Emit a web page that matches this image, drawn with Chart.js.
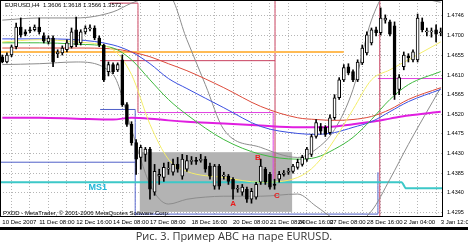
<!DOCTYPE html>
<html>
<head>
<meta charset="utf-8">
<script src="https://cdn.jsdelivr.net/npm/chart.js@4.4.1/dist/chart.umd.min.js"></script>
<style>
  html, body { margin: 0; padding: 0; background: #fff; }
  #wrap { position: relative; width: 468px; height: 242px; overflow: hidden; }
  #chart { position: absolute; left: 0; top: 0; }
  #rule { position: absolute; left: 0; top: 227px; width: 468px; height: 3px; background: #000; }
  #cap { position: absolute; left: 0; top: 230px; width: 468px; text-align: center;
         font: 11px "Open Sans"; line-height: 12px; color: #333; }
  .tag { position: absolute; font: 6px "Liberation Sans"; color: #000; white-space: nowrap; }
</style>
</head>
<body>
<div id="wrap">
  <canvas id="chart" width="468" height="227"></canvas>
  <div class="tag" style="left:5px;top:2px">EURUSD,H4&nbsp; 1.3606 1.3618 1.3566 1.3572</div>
  <div class="tag" style="left:3px;top:210px">PXDD - MetaTrader, © 2001-2006 MetaQuotes Software Corp.</div>
  <div id="rule"></div>
  <div id="cap">Рис. 3. Пример ABC на паре EURUSD.</div>
</div>
<script>
// H4 candles, bar 0 = 10 Dec 2007 00:00
const open  = [1.4652,1.4640,1.4656,1.4675,1.4720,1.4709,1.4714,1.4714,1.4720,1.4700,1.4686,1.4695,1.4659,1.4661,1.4668,1.4675,1.4714,1.4684,1.4709,1.4716,1.4718,1.4695,1.4679,1.4618,1.4634,1.4622,1.4645,1.4542,1.4497,1.4455,1.4421,1.4428,1.4440,1.4341,1.4378,1.4375,1.4394,1.4387,1.4405,1.4378,1.4394,1.4412,1.4414,1.4414,1.4417,1.4401,1.4355,1.4401,1.4378,1.4378,1.4371,1.4348,1.4341,1.4348,1.4325,1.4330,1.4364,1.4394,1.4382,1.4359,1.4371,1.4382,1.4387,1.4389,1.4398,1.4405,1.4417,1.4428,1.4469,1.4492,1.4490,1.4478,1.4512,1.4558,1.4599,1.4629,1.4618,1.4599,1.4638,1.4661,1.4684,1.4714,1.4707,1.4736,1.4732,1.4723,1.4577,1.4629,1.4654,1.4645,1.4645,1.4732,1.4709,1.4709,1.4714,1.4707];
const high  = [1.4656,1.4661,1.4679,1.4729,1.4741,1.4714,1.4720,1.4725,1.4741,1.4707,1.4700,1.4700,1.4668,1.4677,1.4691,1.4718,1.4743,1.4714,1.4723,1.4725,1.4723,1.4700,1.4681,1.4640,1.4638,1.4638,1.4656,1.4547,1.4503,1.4462,1.4449,1.4444,1.4444,1.4405,1.4394,1.4408,1.4410,1.4417,1.4421,1.4428,1.4426,1.4423,1.4421,1.4428,1.4423,1.4408,1.4405,1.4405,1.4387,1.4382,1.4375,1.4357,1.4359,1.4353,1.4350,1.4364,1.4417,1.4398,1.4387,1.4371,1.4389,1.4391,1.4396,1.4405,1.4417,1.4426,1.4444,1.4474,1.4508,1.4499,1.4494,1.4519,1.4565,1.4604,1.4634,1.4636,1.4622,1.4645,1.4679,1.4709,1.4718,1.4720,1.4764,1.4748,1.4736,1.4732,1.4611,1.4663,1.4659,1.4668,1.4750,1.4741,1.4718,1.4718,1.4725,1.4718];
const low   = [1.4638,1.4638,1.4652,1.4670,1.4697,1.4700,1.4707,1.4711,1.4704,1.4684,1.4681,1.4629,1.4650,1.4656,1.4663,1.4672,1.4675,1.4679,1.4704,1.4711,1.4691,1.4675,1.4595,1.4608,1.4613,1.4618,1.4538,1.4492,1.4449,1.4382,1.4394,1.4412,1.4325,1.4334,1.4359,1.4366,1.4382,1.4380,1.4387,1.4371,1.4389,1.4405,1.4405,1.4410,1.4387,1.4371,1.4348,1.4348,1.4371,1.4359,1.4325,1.4341,1.4334,1.4318,1.4316,1.4325,1.4359,1.4359,1.4348,1.4348,1.4364,1.4378,1.4382,1.4385,1.4394,1.4401,1.4412,1.4423,1.4465,1.4474,1.4469,1.4474,1.4508,1.4554,1.4595,1.4611,1.4595,1.4595,1.4634,1.4656,1.4679,1.4700,1.4702,1.4729,1.4700,1.4554,1.4565,1.4622,1.4640,1.4640,1.4640,1.4709,1.4700,1.4697,1.4686,1.4700];
const close = [1.4640,1.4656,1.4675,1.4720,1.4702,1.4704,1.4711,1.4720,1.4709,1.4688,1.4695,1.4640,1.4663,1.4672,1.4684,1.4709,1.4679,1.4709,1.4718,1.4718,1.4695,1.4679,1.4599,1.4634,1.4618,1.4634,1.4542,1.4497,1.4455,1.4417,1.4444,1.4440,1.4348,1.4389,1.4382,1.4398,1.4396,1.4405,1.4394,1.4417,1.4414,1.4414,1.4412,1.4417,1.4394,1.4378,1.4401,1.4355,1.4380,1.4366,1.4348,1.4350,1.4353,1.4325,1.4343,1.4359,1.4401,1.4364,1.4353,1.4357,1.4382,1.4385,1.4389,1.4401,1.4410,1.4421,1.4440,1.4469,1.4501,1.4481,1.4474,1.4512,1.4558,1.4599,1.4627,1.4615,1.4599,1.4640,1.4672,1.4702,1.4714,1.4707,1.4741,1.4741,1.4704,1.4565,1.4604,1.4656,1.4650,1.4663,1.4741,1.4714,1.4711,1.4711,1.4704,1.4707];

const timeLabels = ['10 Dec 2007','11 Dec 08:00','12 Dec 16:00','14 Dec 08:00','17 Dec 08:00','18 Dec 16:00',
                    '20 Dec 08:00','21 Dec 08:00','24 Dec 16:00','27 Dec 08:00','28 Dec 16:00','2 Jan 04:00','3 Jan 12:00'];
const timeBars = [0, 8, 16, 24, 32, 41, 50, 58, 64, 71, 79, 87, 95];
const priceTicks = [1.4295, 1.4340, 1.4385, 1.4430, 1.4475, 1.4520, 1.4565, 1.4610, 1.4655, 1.4700, 1.4746];

// moving averages, read every few bars
const maBars   = [0, 8, 16, 24, 28, 32, 36, 40, 48, 56, 64, 68, 72, 76, 80, 84, 88, 95];
const maBlue   = [1.4693,1.4693,1.4691,1.4679,1.4663,1.4636,1.4602,1.4579,1.4535,1.4492,1.4476,1.4474,1.4478,1.4490,1.4503,1.4526,1.4549,1.4577];
const maRed    = [1.4672,1.4672,1.4672,1.4670,1.4663,1.4652,1.4636,1.4620,1.4581,1.4538,1.4512,1.4508,1.4506,1.4508,1.4515,1.4531,1.4554,1.4581];
const maGreen  = [1.4684,1.4684,1.4681,1.4672,1.4645,1.4599,1.4554,1.4519,1.4462,1.4428,1.4417,1.4421,1.4440,1.4467,1.4508,1.4554,1.4588,1.4618];
const maYellow = [1.4686,1.4691,1.4686,1.4668,1.4611,1.4497,1.4417,1.4389,1.4375,1.4364,1.4375,1.4405,1.4462,1.4531,1.4599,1.4622,1.4645,1.4686];
const maPink   = [1.4512,1.4512,1.4510,1.4508,1.4512,1.4510,1.4506,1.4503,1.4499,1.4494,1.4490,1.4490,1.4492,1.4497,1.4503,1.4510,1.4517,1.4526];

// bollinger bands
const bandBars  = [0, 8, 16, 24, 28, 32, 36, 40, 44, 48, 56, 64, 68, 72, 76, 80, 84, 88, 95];
const bandUpper = [1.4736,1.4741,1.4741,1.4755,1.4775,1.4789,1.4793,1.4691,1.4588,1.4485,1.4444,1.4421,1.4440,1.4485,1.4577,1.4736,1.4805,1.4793,1.4777];
const bandLower = [1.4634,1.4636,1.4640,1.4611,1.4485,1.4359,1.4314,1.4325,1.4330,1.4332,1.4332,1.4337,1.4309,1.4280,1.4268,1.4298,1.4371,1.4451,1.4581];

// drawn levels: [bar, price] points
const orangeLevel = [[-0.5, 1.4663], [74, 1.4663]];
const cyanLevel   = [[-0.5, 1.4364], [86.5, 1.4364], [87.5, 1.4350], [95.5, 1.4350]];
const redLines    = [[[23.3, 1.4775], [29.4, 1.4775], [29.4, 1.4524]],
                     [[21.2, 1.4643], [59.1, 1.4643]],
                     [[59.1, 1.4790], [59.1, 1.4371]],
                     [[81.8, 1.4790], [81.8, 1.4280]]];
const pinkLines   = [[[29.4, 1.4524], [58.7, 1.4524], [58.7, 1.4371]],
                     [[81.4, 1.4602], [95.5, 1.4602]]];
const blueLines   = [[[-0.5, 1.4410], [28.8, 1.4410]],
                     [[21.2, 1.4531], [28.8, 1.4531], [28.8, 1.4288]],
                     [[28.8, 1.4291], [81.4, 1.4291], [81.4, 1.4387]]];

const boxBars = [29.8, 62.8];
const boxPrices = [1.4296, 1.4433];
const marks = [['A', 50, 1.4314], ['B', 55.4, 1.4421], ['C', 59.5, 1.4332]];
const msMark = ['MS1', 20.7, 1.4353];

const pts = (xs, ys) => xs.map((x, i) => ({ x: x, y: ys[i] }));
const seg = a => a.map(p => ({ x: p[0], y: p[1] }));

function lineSet(data, color, width) {
  return { type: 'line', data: data, borderColor: color, borderWidth: width || 1,
           pointRadius: 0, fill: false, cubicInterpolationMode: 'monotone' };
}

const datasets = [
  { type: 'bar', data: open.map((o, i) => ({ x: i, y: [o, close[i]] })),
    backgroundColor: open.map((o, i) => close[i] >= o ? '#fff' : '#000'),
    borderColor: '#000', borderWidth: 1, borderSkipped: false, barThickness: 3, minBarLength: 1, grouped: false },
  { type: 'bar', data: open.map((o, i) => ({ x: i, y: [low[i], high[i]] })),
    backgroundColor: '#000', barThickness: 1, grouped: false },
  lineSet(pts(maBars, maYellow), '#f4ee6a'),
  lineSet(pts(maBars, maGreen), '#3fb93f'),
  lineSet(pts(maBars, maRed), '#dd4a3a'),
  lineSet(pts(maBars, maBlue), '#3a4fe0'),
  lineSet(pts(maBars, maPink), '#e01ee0', 2),
  lineSet(pts(bandBars, bandUpper), '#8c8c8c'),
  lineSet(pts(bandBars, bandLower), '#8c8c8c'),
  lineSet(seg(orangeLevel), '#ffbb55', 2),
  lineSet(seg(cyanLevel), '#3cc8c8', 2)
];
redLines.forEach(l => datasets.push(lineSet(seg(l), '#c8405e')));
pinkLines.forEach(l => datasets.push(lineSet(seg(l), '#e040e0')));
blueLines.forEach(l => datasets.push(lineSet(seg(l), '#5060c8')));

const decor = {
  id: 'decor',
  beforeDatasetsDraw(chart) {
    const { ctx, scales: { x, y } } = chart;
    const x0 = x.getPixelForValue(boxBars[0]), x1 = x.getPixelForValue(boxBars[1]);
    const y0 = y.getPixelForValue(boxPrices[1]), y1 = y.getPixelForValue(boxPrices[0]);
    ctx.save();
    ctx.fillStyle = '#b3b3b3';
    ctx.fillRect(x0, y0, x1 - x0, y1 - y0);
    ctx.restore();
  },
  afterDatasetsDraw(chart) {
    const { ctx, chartArea: a, scales: { x, y } } = chart;
    ctx.save();
    ctx.textAlign = 'center';
    ctx.textBaseline = 'middle';
    ctx.font = 'bold 8px "Liberation Sans"';
    ctx.fillStyle = '#e81c1c';
    marks.forEach(m => ctx.fillText(m[0], x.getPixelForValue(m[1]), y.getPixelForValue(m[2])));
    ctx.font = 'bold 9px "Liberation Sans"';
    ctx.fillStyle = '#1fb5d6';
    ctx.fillText(msMark[0], x.getPixelForValue(msMark[1]), y.getPixelForValue(msMark[2]));
    ctx.strokeStyle = '#000';
    ctx.lineWidth = 1;
    ctx.strokeRect(a.left + 0.5, a.top + 0.5, a.right - a.left - 1, a.bottom - a.top - 1);
    ctx.restore();
  }
};

new Chart(document.getElementById('chart'), {
  type: 'bar',
  data: { datasets: datasets },
  options: {
    responsive: false,
    animation: false,
    events: [],
    layout: { padding: 0 },
    plugins: { legend: { display: false }, tooltip: { enabled: false } },
    scales: {
      x: {
        type: 'linear', min: -0.5, max: 95.5, offset: false, position: 'bottom',
        grid: { display: false, drawTicks: false },
        border: { display: false },
        afterBuildTicks: s => { s.ticks = timeBars.map(v => ({ value: v })); },
        afterFit: s => { s.height = 10; s.paddingLeft = 0; s.paddingRight = 0; },
        ticks: { autoSkip: false, maxRotation: 0, align: 'start', padding: 2, color: '#000',
                 font: { family: 'Liberation Sans', size: 6 },
                 callback: (v, i) => timeLabels[i] }
      },
      xg: {
        type: 'linear', min: -0.5, max: 95.5, offset: false, position: 'bottom',
        grid: { color: '#b5b5b5', drawTicks: false },
        border: { display: false, dash: [1, 2] },
        ticks: { display: false },
        afterBuildTicks: s => { const t = []; for (let b = 0; b <= 95; b += 4) t.push({ value: b }); s.ticks = t; },
        afterFit: s => { s.height = 0; }
      },
      y: {
        position: 'right', min: 1.42843, max: 1.47822,
        grid: { color: '#b5b5b5', drawTicks: false },
        border: { display: false, dash: [1, 2] },
        afterBuildTicks: s => { s.ticks = priceTicks.map(v => ({ value: v })); },
        afterFit: s => { s.width = 25; s.paddingTop = 0; s.paddingBottom = 0; },
        ticks: { padding: 4, color: '#000', font: { family: 'Liberation Sans', size: 5.5 },
                 callback: (v, i) => priceTicks[i].toFixed(4) }
      }
    }
  },
  plugins: [decor]
});
</script>
</body>
</html>
